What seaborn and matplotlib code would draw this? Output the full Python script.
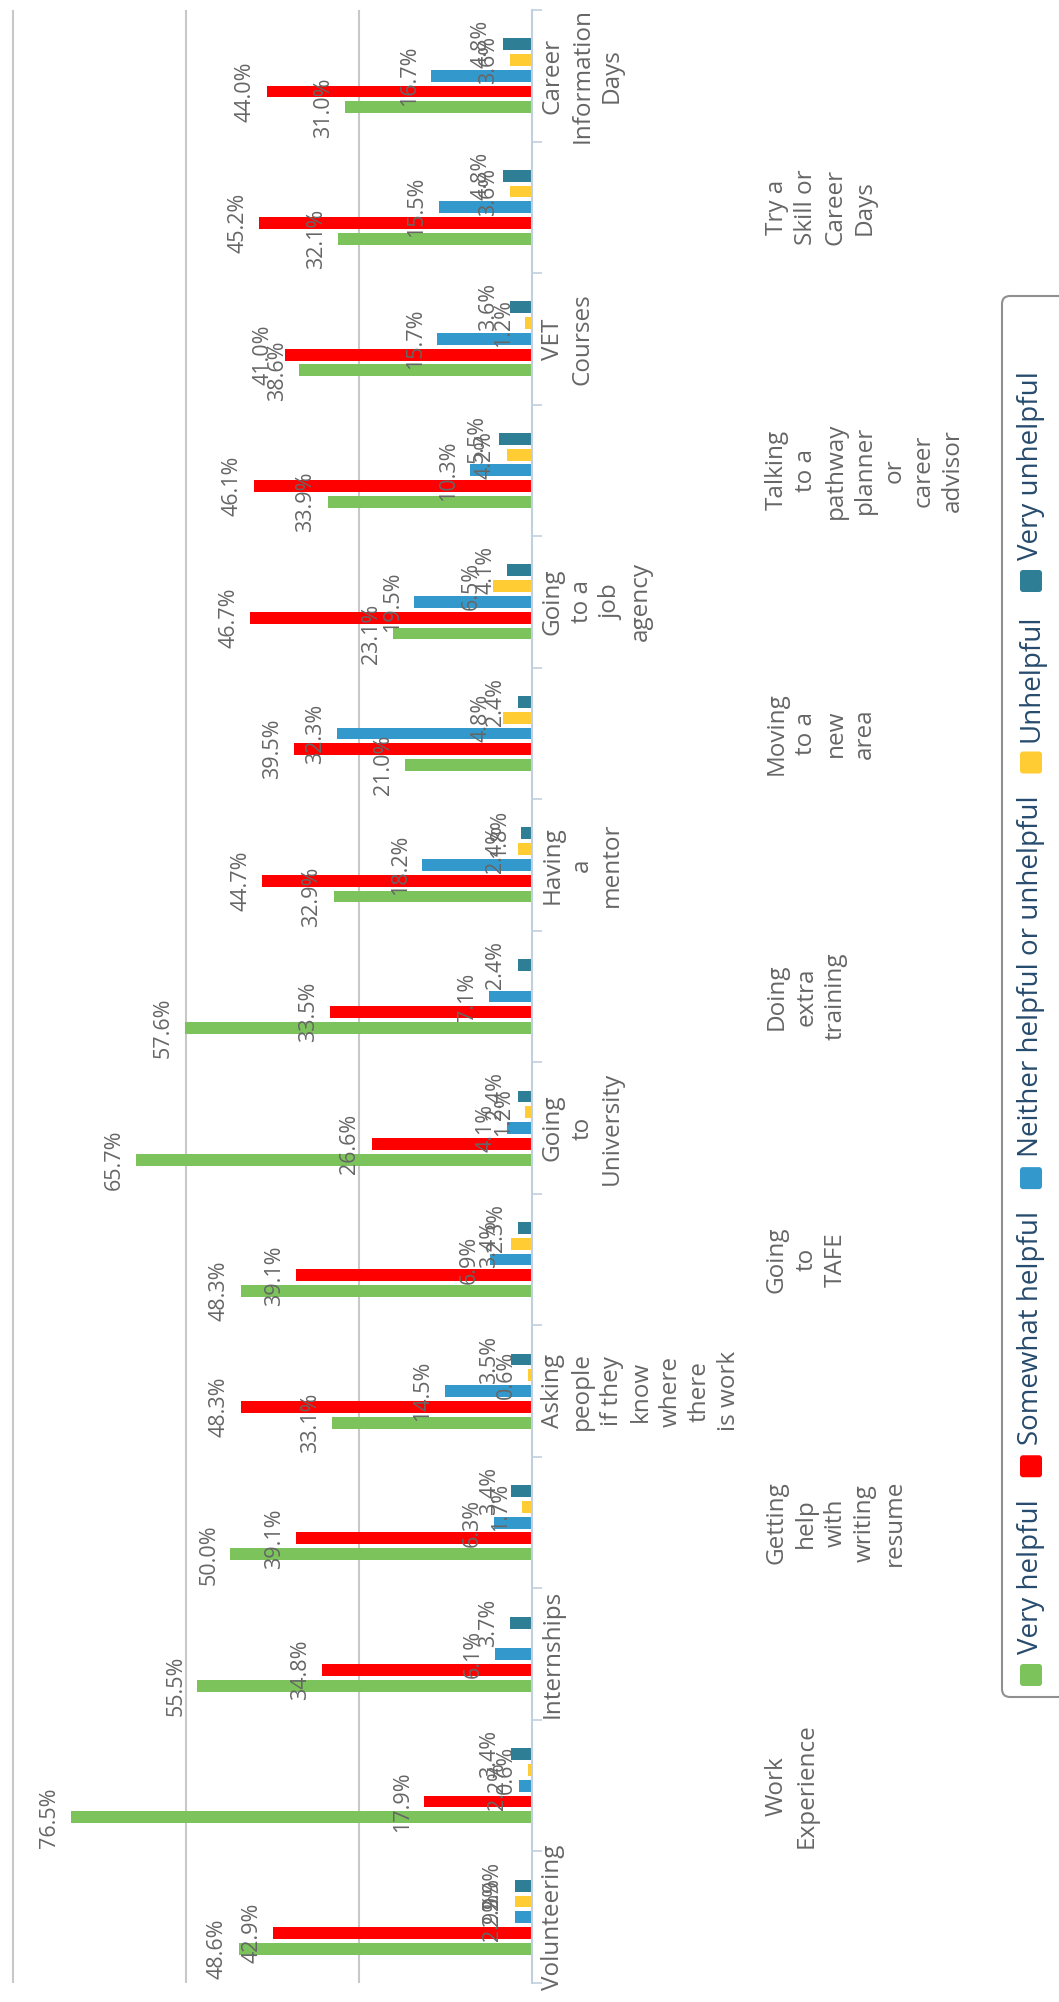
import numpy as np
import pandas as pd

import matplotlib
matplotlib.use("Agg")
import matplotlib.pyplot as plt
from matplotlib.patches import FancyBboxPatch
from matplotlib.transforms import IdentityTransform, blended_transform_factory
import seaborn as sns


CATEGORIES = [
    "Volunteering",
    "Work\nExperience",
    "Internships",
    "Getting\nhelp\nwith\nwriting\nresume",
    "Asking\npeople\nif they\nknow\nwhere\nthere\nis work",
    "Going\nto\nTAFE",
    "Going\nto\nUniversity",
    "Doing\nextra\ntraining",
    "Having\na\nmentor",
    "Moving\nto a\nnew\narea",
    "Going\nto a\njob\nagency",
    "Talking\nto a\npathway\nplanner\nor\ncareer\nadvisor",
    "VET\nCourses",
    "Try a\nSkill or\nCareer\nDays",
    "Career\nInformation\nDays",
]

SERIES = [
    "Very helpful",
    "Somewhat helpful",
    "Neither helpful or unhelpful",
    "Unhelpful",
    "Very unhelpful",
]

very_helpful = [48.6, 76.5, 55.5, 50.0, 33.1, 48.3, 65.7, 57.6, 32.9, 21.0, 23.1, 33.9, 38.6, 32.1, 31.0]
somewhat_helpful = [42.9, 17.9, 34.8, 39.1, 48.3, 39.1, 26.6, 33.5, 44.7, 39.5, 46.7, 46.1, 41.0, 45.2, 44.0]
neither = [2.9, 2.2, 6.1, 6.3, 14.5, 6.9, 4.1, 7.1, 18.2, 32.3, 19.5, 10.3, 15.7, 15.5, 16.7]
unhelpful = [2.9, 0.6, 0.0, 1.7, 0.6, 3.4, 1.2, 0.0, 2.4, 4.8, 6.5, 4.2, 1.2, 3.6, 3.6]
very_unhelpful = [2.9, 3.4, 3.7, 3.4, 3.5, 2.3, 2.4, 2.4, 1.8, 2.4, 4.1, 5.5, 3.6, 4.8, 4.8]

COLORS = ["#7dc35b", "#ff0000", "#3399cc", "#ffcc33", "#2e7f96"]

W_PX, H_PX = 1059, 2002
TEXT_FONT = ["Open Sans", "DejaVu Sans"]

sns.set_style("white")
plt.rcParams["font.family"] = TEXT_FONT

df = pd.DataFrame(
    {
        "category": CATEGORIES * len(SERIES),
        "series": np.repeat(SERIES, len(CATEGORIES)),
        "value": very_helpful + somewhat_helpful + neither + unhelpful + very_unhelpful,
    }
)

fig = plt.figure(figsize=(W_PX / 100, H_PX / 100), dpi=100)
ax = fig.add_axes([11 / W_PX, 19 / H_PX, 521 / W_PX, 1973 / H_PX])

# chart is drawn turned on its side: categories run bottom -> top
sns.barplot(
    data=df,
    x="value",
    y="category",
    hue="series",
    order=CATEGORIES[::-1],
    hue_order=SERIES[::-1],
    palette=dict(zip(SERIES, COLORS)),
    orient="h",
    errorbar=None,
    saturation=1,
    width=0.6,
    gap=0.25,
    linewidth=0,
    legend=False,
    ax=ax,
)

ax.set_xlim(86.4, 0)
ax.set_ylim(len(CATEGORIES) - 0.5, -0.5)
ax.set_xlabel("")
ax.set_ylabel("")

ax.set_xticks([28.7, 57.4, 86.1])
ax.tick_params(axis="x", length=0, labelbottom=False)
ax.grid(True, axis="x", color="#c8c8c8", linewidth=1.5)
ax.grid(False, axis="y")
ax.set_axisbelow(True)

ax.tick_params(axis="y", which="major", length=0, labelleft=False, left=False)
ax.set_yticks(np.arange(-0.5, len(CATEGORIES), 1.0), minor=True)
ax.tick_params(axis="y", which="minor", left=False, right=True, length=7,
               width=1.2, color="#c0d0e0", direction="out")
for side in ["top", "bottom", "left"]:
    ax.spines[side].set_visible(False)
ax.spines["right"].set_color("#c0d0e0")
ax.spines["right"].set_linewidth(1.5)

# value labels at the bar ends
for cont in ax.containers:
    labels = [f"{v:.1f}%" if v > 0 else "" for v in cont.datavalues]
    ax.bar_label(cont, labels=labels, padding=8, rotation=90,
                 fontsize=15.5, color="#666666")

# staggered category labels (two rows)
trans = blended_transform_factory(ax.transAxes, ax.transData)
for i, cat in enumerate(CATEGORIES[::-1]):
    idx = len(CATEGORIES) - 1 - i
    x_off = 1.017 if idx % 2 == 0 else 1.447
    ax.text(x_off, i, cat, transform=trans, rotation=90, ha="left", va="center",
            multialignment="center", linespacing=1.3, fontsize=17.5,
            color="#666666", clip_on=False)

# legend box, turned like the rest of the chart
px = IdentityTransform()
fig.add_artist(FancyBboxPatch((1002, H_PX - 1697), 80, 1401,
                              boxstyle="round,pad=0,rounding_size=8",
                              fc="white", ec="#909090", lw=1.5, transform=px))
fig.canvas.draw()
renderer = fig.canvas.get_renderer()
y = H_PX - 1686
sq = 22
for name, col in zip(SERIES, COLORS):
    fig.add_artist(FancyBboxPatch((1031 - sq / 2, y), sq, sq,
                                  boxstyle="round,pad=0,rounding_size=3",
                                  fc=col, ec="none", transform=px))
    y += sq + 10
    t = fig.text(1031, y, name, rotation=90, ha="center", va="bottom",
                 fontsize=20, color="#274b6d", transform=px)
    y += t.get_window_extent(renderer).height + 22

fig.savefig("out.png", dpi=100, facecolor="white")
plt.close(fig)
